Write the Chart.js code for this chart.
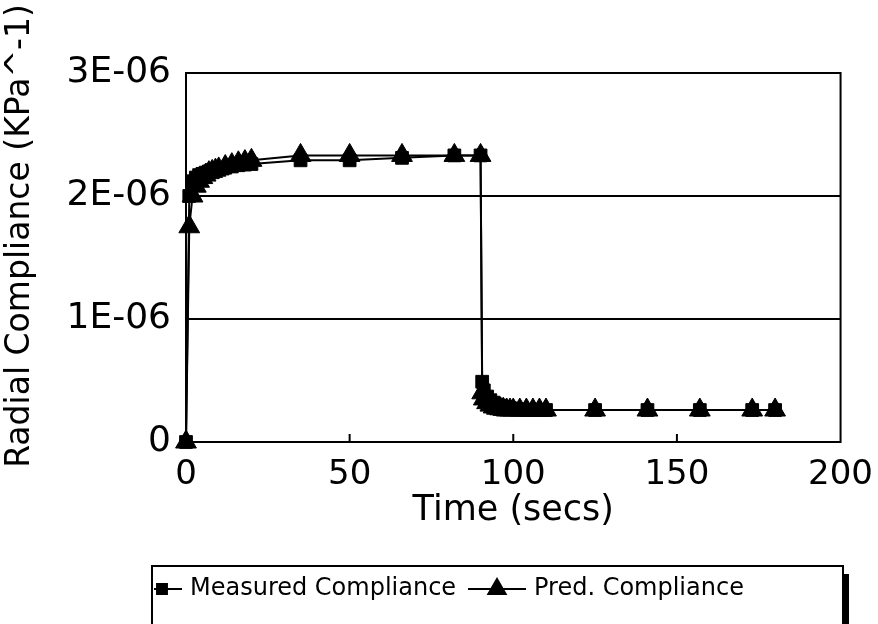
<!DOCTYPE html>
<html>
<head>
<meta charset="utf-8">
<script src="https://cdn.jsdelivr.net/npm/chart.js@4.4.0/dist/chart.umd.min.js"></script>
<style>
  html, body { margin: 0; padding: 0; background: #fff; }
</style>
</head>
<body>
<canvas id="chart" width="878" height="624"></canvas>
<script>
// time in seconds, compliance in units of 1E-06 KPa^-1
const times = [0, 1, 2, 3, 4, 5, 6, 7, 8, 9, 10, 12, 14, 16, 18, 20,
  35, 50, 66, 82, 90,
  90.5, 91, 92, 93, 94, 95, 96, 97, 98, 99, 100,
  102, 104, 106, 108, 110,
  125, 141, 157, 173, 180];

const measured = [0, 2.0, 2.12, 2.15, 2.17, 2.18, 2.19, 2.2, 2.21, 2.215, 2.22, 2.23, 2.24, 2.25, 2.255, 2.26,
  2.29, 2.29, 2.31, 2.33, 2.33,
  0.49, 0.42, 0.37, 0.34, 0.32, 0.305, 0.295, 0.285, 0.28, 0.275, 0.27,
  0.265, 0.26, 0.26, 0.26, 0.26,
  0.26, 0.26, 0.26, 0.26, 0.26];

const predicted = [0, 1.75, 2.0, 2.08, 2.12, 2.15, 2.17, 2.19, 2.2, 2.21, 2.22, 2.24, 2.255, 2.27, 2.28, 2.29,
  2.33, 2.33, 2.33, 2.33, 2.33,
  0.4, 0.35, 0.32, 0.3, 0.285, 0.275, 0.27, 0.265, 0.26, 0.26, 0.26,
  0.26, 0.26, 0.26, 0.26, 0.26,
  0.26, 0.26, 0.26, 0.26, 0.26];

const yTickLabels = ["0", "1E-06", "2E-06", "3E-06"];
const xTicks = [0, 50, 100, 150, 200];
const seriesNames = ["Measured Compliance", "Pred. Compliance"];
const xTitle = "Time (secs)";
const yTitle = "Radial Compliance (KPa^-1)";

const FONT = "DejaVu Sans";

function toPoints(vals) {
  return times.map((t, i) => ({ x: t, y: vals[i] }));
}

// box around the plot, short inward ticks on the time axis, rotated y title
const framePlugin = {
  id: "frame",
  beforeDatasetsDraw(chart) {
    const { ctx, chartArea: a, scales } = chart;
    ctx.save();
    ctx.strokeStyle = "#000";
    ctx.lineWidth = 2;
    ctx.strokeRect(a.left, a.top, a.right - a.left, a.bottom - a.top);
    ctx.beginPath();
    for (const v of xTicks.slice(1, -1)) {
      const px = scales.x.getPixelForValue(v);
      ctx.moveTo(px, a.bottom);
      ctx.lineTo(px, a.bottom - 8);
    }
    ctx.stroke();
    ctx.restore();
  },
  afterDraw(chart) {
    const ctx = chart.ctx;
    ctx.save();
    ctx.fillStyle = "#000";
    ctx.font = "33px '" + FONT + "'";
    ctx.textAlign = "center";
    ctx.textBaseline = "middle";
    ctx.translate(20, 236);
    ctx.rotate(-Math.PI / 2);
    ctx.fillText(yTitle, 0, 0);
    ctx.restore();
  },
};

// boxed legend under the axis title, with a drop shadow on the right
const legendPlugin = {
  id: "boxLegend",
  afterDraw(chart) {
    const ctx = chart.ctx;
    const top = 566, left = 152, right = 843, cy = 589;
    ctx.save();
    ctx.strokeStyle = "#000";
    ctx.fillStyle = "#000";
    ctx.lineWidth = 2;
    ctx.beginPath();
    ctx.moveTo(left, 624);
    ctx.lineTo(left, top);
    ctx.lineTo(right, top);
    ctx.lineTo(right, 624);
    ctx.stroke();
    ctx.fillRect(right, top + 8, 6, 624 - top - 8);

    const items = [
      { ds: chart.data.datasets[0], x0: 154, x1: 182, mx: 162, tx: 190 },
      { ds: chart.data.datasets[1], x0: 468, x1: 526, mx: 497, tx: 534 },
    ];
    ctx.font = "24px '" + FONT + "'";
    ctx.textBaseline = "middle";
    for (const it of items) {
      ctx.beginPath();
      ctx.moveTo(it.x0, cy);
      ctx.lineTo(it.x1, cy);
      ctx.stroke();
      Chart.helpers.drawPoint(ctx, {
        pointStyle: it.ds.pointStyle,
        radius: it.ds.pointRadius - 2,
        borderWidth: 1,
      }, it.mx, cy);
      ctx.fillText(it.ds.label, it.tx, cy);
    }
    ctx.restore();
  },
};

const ctx = document.getElementById("chart").getContext("2d");

new Chart(ctx, {
  type: "line",
  data: {
    datasets: [
      {
        label: seriesNames[0],
        data: toPoints(measured),
        borderColor: "#000",
        backgroundColor: "#000",
        borderWidth: 2,
        pointStyle: "rect",
        pointRadius: 9,
        pointBorderWidth: 1,
        tension: 0,
        clip: false,
        order: 1,
      },
      {
        label: seriesNames[1],
        data: toPoints(predicted),
        borderColor: "#000",
        backgroundColor: "#000",
        borderWidth: 2,
        pointStyle: "triangle",
        pointRadius: 12,
        pointBorderWidth: 1,
        tension: 0,
        clip: false,
        order: 0,
      },
    ],
  },
  options: {
    responsive: false,
    devicePixelRatio: 1,
    animation: false,
    layout: { padding: { top: 73, right: 35, left: 0, bottom: 0 } },
    plugins: {
      legend: { display: false },
      tooltip: { enabled: false },
    },
    scales: {
      x: {
        type: "linear",
        min: 0,
        max: 200,
        afterFit: (scale) => { scale.height = 182; },
        afterBuildTicks: (scale) => { scale.ticks = xTicks.map((v) => ({ value: v })); },
        ticks: {
          color: "#000",
          font: { family: FONT, size: 34 },
          padding: 5,
          maxRotation: 0,
        },
        grid: { display: false },
        border: { display: true, color: "#000", width: 2 },
        title: {
          display: true,
          text: xTitle,
          color: "#000",
          font: { family: FONT, size: 35 },
          padding: { top: 0, bottom: 92 },
        },
      },
      y: {
        min: 0,
        max: 3,
        afterFit: (scale) => { scale.width = 186; },
        ticks: {
          stepSize: 1,
          color: "#000",
          font: { family: FONT, size: 36 },
          padding: 15,
          callback: (v) => yTickLabels[Math.round(v)],
        },
        grid: { color: "#000", lineWidth: 2, drawTicks: false },
        border: { display: true, color: "#000", width: 2 },
      },
    },
  },
  plugins: [framePlugin, legendPlugin],
});
</script>
</body>
</html>
